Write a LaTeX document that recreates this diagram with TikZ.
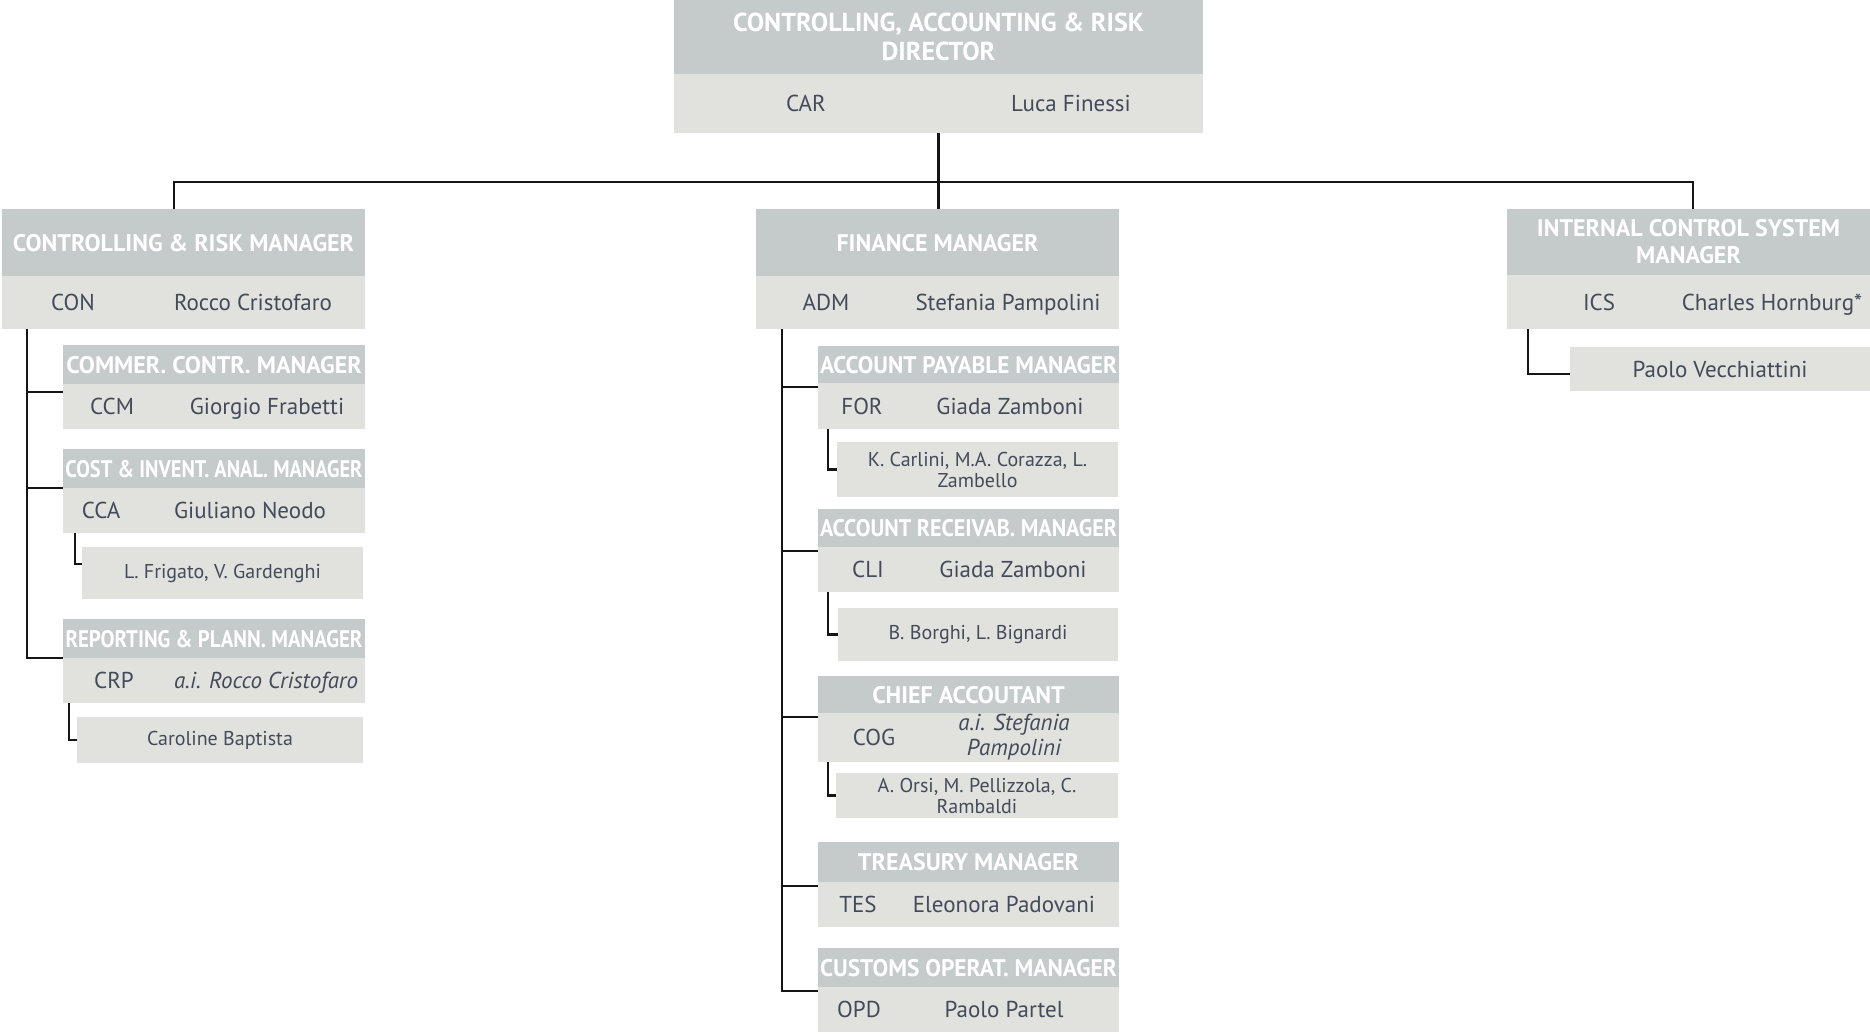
\documentclass[tikz,border=0pt]{standalone}
\usepackage{fontspec}
\usepackage{graphicx}
\setmainfont{PT Sans}
\newfontfamily\hfont{PT Sans}

\definecolor{hdrgray}{HTML}{C5CACA}
\definecolor{bodygray}{HTML}{E1E2DE}
\definecolor{ink}{HTML}{434B5B}
\definecolor{wire}{HTML}{151515}

% squeeze a single-line label horizontally when it is wider than #1
\newcommand\fitto[2]{\sbox0{#2}\ifdim\wd0>#1\relax\resizebox{#1}{\height}{\usebox0}\else\usebox0\fi}

\tikzset{
  hdr/.style={fill=hdrgray, draw=none, inner sep=0pt, outer sep=0pt, anchor=north west},
  bdy/.style={fill=bodygray, draw=none, inner sep=0pt, outer sep=0pt, anchor=north west},
  ttl/.style={text=white, font=\hfont\bfseries\fontsize{24}{27}\selectfont, inner sep=0pt, text height=17pt, text depth=0pt},
  ttltwo/.style={text=white, font=\hfont\bfseries\fontsize{24}{27}\selectfont, inner sep=0pt, align=center},
  lbl/.style={text=ink, font=\fontsize{23}{26}\selectfont, inner sep=0pt, text height=16pt, text depth=0pt},
  lbltwo/.style={text=ink, font=\itshape\fontsize{23}{25}\selectfont, inner sep=0pt, align=center},
  leaf/.style={fill=bodygray, draw=none, inner sep=0pt, outer sep=0pt, anchor=north west,
               text=ink, font=\fontsize{20}{21}\selectfont, align=center},
  conn/.style={draw=wire, line width=2.9pt, line join=miter}
}

% one position box: grey title band over a light band
% [#1] title style, #2 name, #3/#4 left/right x, #5 top, #6 band split, #7 bottom, #8 title
\newcommand\orgunit[8][ttl]{%
  \pgfmathsetmacro\uw{#4-#3}%
  \pgfmathsetmacro\uh{#6-#5}%
  \pgfmathsetmacro\ub{#7-#6}%
  \node[hdr, minimum width=\uw pt, minimum height=\uh pt] (#2-h) at (#3,#5) {};
  \node[bdy, minimum width=\uw pt, minimum height=\ub pt] (#2-b) at (#3,#6) {};
  \node[#1] (#2-t) at (#2-h.center) {#8};
}

\begin{document}
\begin{tikzpicture}[x=1pt, y=-1pt]
\useasboundingbox (0,0) rectangle (1870,1033);

% director
\orgunit[{ttltwo, font=\hfont\bfseries\fontsize{26}{29}\selectfont}]{car}{674}{1203}{0}{74}{133}{CONTROLLING, ACCOUNTING \& RISK\\DIRECTOR}
\node[lbl] (car-c) at (806,0 |- car-b.center) {CAR};
\node[lbl] (car-n) at (1071,0 |- car-b.center) {Luca Finessi};

% first level
\orgunit{con}{2}{365}{209}{276}{329}{\fitto{355pt}{CONTROLLING \& RISK MANAGER}}
\node[lbl] (con-c) at (73,0 |- con-b.center) {CON};
\node[lbl] (con-n) at (253,0 |- con-b.center) {Rocco Cristofaro};

\orgunit{fin}{756}{1119}{209}{276}{329}{FINANCE MANAGER}
\node[lbl] (fin-c) at (826,0 |- fin-b.center) {ADM};
\node[lbl] (fin-n) at (1008,0 |- fin-b.center) {Stefania Pampolini};

\orgunit[ttltwo]{ics}{1507}{1870}{209}{275}{329}{INTERNAL CONTROL SYSTEM\\MANAGER}
\node[lbl] (ics-c) at (1599,0 |- ics-b.center) {ICS};
\node[lbl] (ics-n) at (1772,0 |- ics-b.center) {Charles Hornburg*};

% controlling branch
\orgunit{ccm}{63}{365}{345}{384}{429}{\fitto{297pt}{COMMER. CONTR. MANAGER}}
\node[lbl] (ccm-c) at (112,0 |- ccm-b.center) {CCM};
\node[lbl] (ccm-n) at (267,0 |- ccm-b.center) {Giorgio Frabetti};

\orgunit{cca}{63}{365}{449}{488}{533}{\fitto{297pt}{COST \& INVENT. ANAL. MANAGER}}
\node[lbl] (cca-c) at (101,0 |- cca-b.center) {CCA};
\node[lbl] (cca-n) at (250,0 |- cca-b.center) {Giuliano Neodo};

\orgunit{crp}{63}{365}{619}{658}{703}{\fitto{297pt}{REPORTING \& PLANN. MANAGER}}
\node[lbl] (crp-c) at (114,0 |- crp-b.center) {CRP};
\node[lbl, font=\itshape\fontsize{23}{26}\selectfont] (crp-n) at (266,0 |- crp-b.center) {a.i. Rocco Cristofaro};

\node[leaf, minimum width=281pt, minimum height=52pt] (fri) at (82,547) {L. Frigato, V. Gardenghi};
\node[leaf, minimum width=286pt, minimum height=46pt] (bap) at (77,717) {Caroline Baptista};

% finance branch
\orgunit{pay}{818}{1119}{346}{383}{429}{\fitto{297pt}{ACCOUNT PAYABLE MANAGER}}
\node[lbl] (pay-c) at (862,0 |- pay-b.center) {FOR};
\node[lbl] (pay-n) at (1010,0 |- pay-b.center) {Giada Zamboni};

\orgunit{rec}{818}{1119}{509}{547}{592}{\fitto{297pt}{ACCOUNT RECEIVAB. MANAGER}}
\node[lbl] (rec-c) at (868,0 |- rec-b.center) {CLI};
\node[lbl] (rec-n) at (1013,0 |- rec-b.center) {Giada Zamboni};

\orgunit{cog}{818}{1119}{676}{713}{762}{\fitto{297pt}{CHIEF ACCOUTANT}}
\node[lbl] (cog-c) at (874,0 |- cog-b.center) {COG};
\node[lbltwo] (cog-n) at (1014,0 |- cog-b.center) {a.i. Stefania\\Pampolini};

\orgunit{tes}{818}{1119}{842}{882}{927}{\fitto{297pt}{TREASURY MANAGER}}
\node[lbl] (tes-c) at (858,0 |- tes-b.center) {TES};
\node[lbl] (tes-n) at (1004,0 |- tes-b.center) {Eleonora Padovani};

\orgunit{opd}{818}{1119}{948}{987}{1032}{\fitto{297pt}{CUSTOMS OPERAT. MANAGER}}
\node[lbl] (opd-c) at (859,0 |- opd-b.center) {OPD};
\node[lbl] (opd-n) at (1004,0 |- opd-b.center) {Paolo Partel};

\node[leaf, minimum width=281pt, minimum height=55pt] (kca) at (837,442) {K. Carlini, M.A. Corazza, L.\\Zambello};
\node[leaf, minimum width=280pt, minimum height=53pt] (bor) at (838,608) {B. Borghi, L. Bignardi};
\node[leaf, minimum width=282pt, minimum height=45pt] (ors) at (836,773) {A. Orsi, M. Pellizzola, C.\\Rambaldi};

% internal control branch
\node[leaf, minimum width=300pt, minimum height=44pt, font=\fontsize{23}{26}\selectfont] (vec) at (1570,347) {Paolo Vecchiattini};

% connectors
\coordinate (busL) at (174,182);
\coordinate (busR) at (1693,182);
\draw[conn] (car-b.south) -- (car-b.south |- fin-h.north);
\draw[conn] (busL |- con-h.north) -- (busL) -- (busR) -- (busR |- ics-h.north);

\coordinate (spL) at (27,0);
\draw[conn] (spL |- con-b.south) |- ([yshift=-8pt]ccm-h.south west);
\draw[conn] (spL |- con-b.south) |- (cca-h.south west);
\draw[conn] (spL |- con-b.south) |- (crp-h.south west);
\coordinate (elA) at (75,0);
\draw[conn] (elA |- cca-b.south) |- ([yshift=9pt]fri.west);
\coordinate (elB) at (69,0);
\draw[conn] (elB |- crp-b.south) |- (bap.west);

\coordinate (spM) at (782,0);
\foreach \u in {pay,rec,cog,tes,opd}
  \draw[conn] (spM |- fin-b.south) |- ([yshift=-4pt]\u-h.south west);
\coordinate (elM) at (828,0);
\draw[conn] (elM |- pay-b.south) |- (kca.west);
\draw[conn] (elM |- rec-b.south) |- (bor.west);
\draw[conn] (elM |- cog-b.south) |- (ors.west);

\coordinate (elR) at (1528,0);
\draw[conn] (elR |- ics-b.south) |- ([yshift=-5pt]vec.west);
\end{tikzpicture}
\end{document}
